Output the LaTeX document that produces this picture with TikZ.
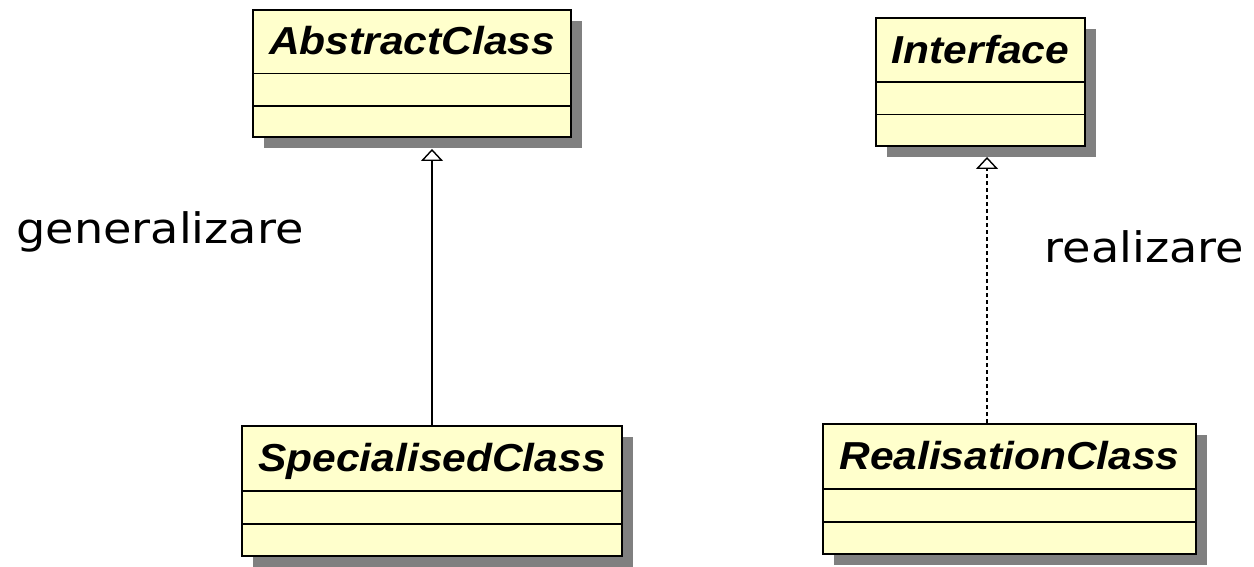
\documentclass[tikz,border=0pt]{standalone}
\usepackage{fontspec}
\usepackage{xcolor}
\usepackage{tikz}
\usetikzlibrary{shadows, arrows.meta, calc}
\newfontfamily\classfont[FakeStretch=1.09]{Liberation Sans}
\newfontfamily\labelfont[FakeStretch=1.1]{DejaVu Sans}
\definecolor{umlyellow}{RGB}{255,255,204}

\begin{document}
\begin{tikzpicture}[x=0.02cm, y=-0.02cm,
    umlclass/.style={draw, line width=1.1pt, fill=umlyellow, inner sep=0pt,
        drop shadow={shadow xshift=0.22cm, shadow yshift=-0.22cm, fill=black!50, opacity=1}},
    classname/.style={font=\classfont\bfseries\itshape\fontsize{22.2}{26}\selectfont, inner sep=0pt, anchor=base},
    relname/.style={font=\labelfont\fontsize{23.9}{28}\selectfont, inner sep=0pt, anchor=base},
    divider/.style={line width=0.9pt},
    inherit/.style={line width=0.8pt, -{Triangle[open, width=0.44cm, length=0.24cm]}},
    realise/.style={inherit, dash pattern=on 0.08cm off 0.06cm}]
    \useasboundingbox (0,0) rectangle (1254,566);

    \node[umlclass, minimum width=6.36cm, minimum height=2.54cm] (abs) at (412,73.5) {};
    \node[umlclass, minimum width=4.18cm, minimum height=2.56cm] (intf) at (980.5,82) {};
    \node[umlclass, minimum width=7.6cm, minimum height=2.6cm] (spec) at (432,491) {};
    \node[umlclass, minimum width=7.46cm, minimum height=2.6cm] (real) at (1009.5,489) {};

    \node[classname] (absname) at ($(abs.north)!0.355!(abs.south)$) {AbstractClass};
    \node[classname] (intfname) at ($(intf.north)!0.355!(intf.south)$) {Interface};
    \node[classname] (specname) at ($(spec.north)!0.355!(spec.south)$) {SpecialisedClass};
    \node[classname] (realname) at ($(real.north)!0.355!(real.south)$) {RealisationClass};

    \draw[divider] (abs.west) -- (abs.east);
    \draw[divider] ($(abs.west)!0.5!(abs.south west)$) -- ($(abs.east)!0.5!(abs.south east)$);
    \draw[divider] (intf.west) -- (intf.east);
    \draw[divider] ($(intf.west)!0.5!(intf.south west)$) -- ($(intf.east)!0.5!(intf.south east)$);
    \draw[divider] (spec.west) -- (spec.east);
    \draw[divider] ($(spec.west)!0.5!(spec.south west)$) -- ($(spec.east)!0.5!(spec.south east)$);
    \draw[divider] (real.west) -- (real.east);
    \draw[divider] ($(real.west)!0.5!(real.south west)$) -- ($(real.east)!0.5!(real.south east)$);

    \coordinate (rtop) at ($(real.north)+(-22.5,0)$);
    \draw[inherit] (spec.north) -- ($(spec.north |- abs.south)+(0,11)$);
    \draw[realise] (rtop) -- ($(rtop |- intf.south)+(0,10)$);

    \node[relname] (gen) at (160,243) {generalizare};
    \node[relname] (rea) at (1144.5,262) {realizare};
\end{tikzpicture}
\end{document}
